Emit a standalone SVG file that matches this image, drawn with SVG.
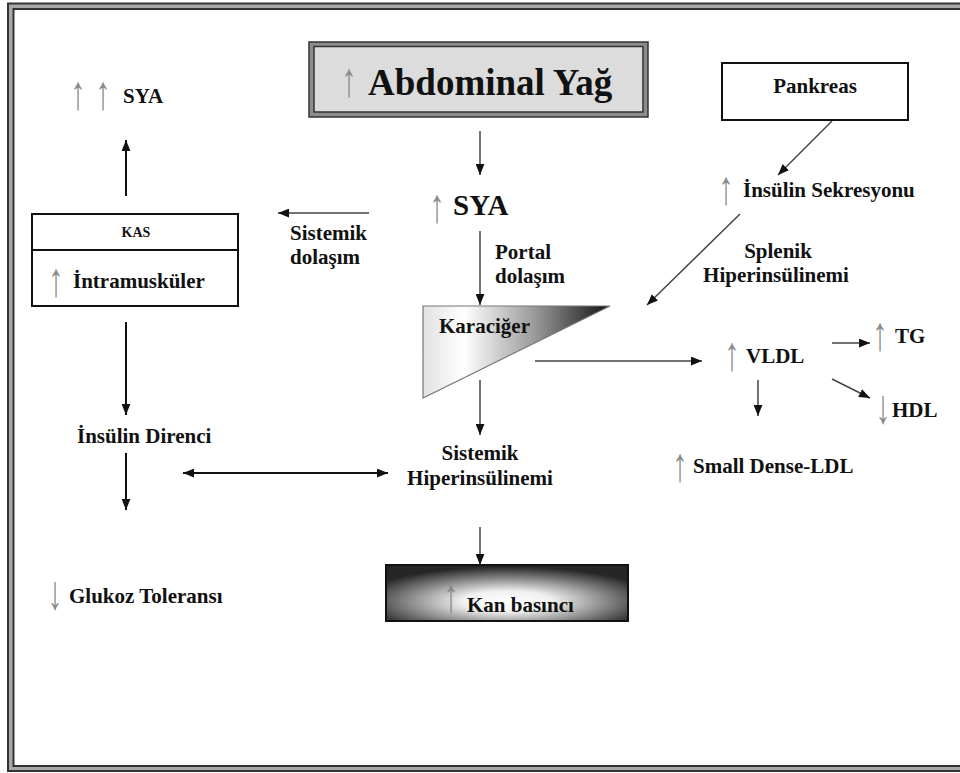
<svg xmlns="http://www.w3.org/2000/svg" width="960" height="773" viewBox="0 0 960 773">
<style>
text{font-family:"Liberation Serif","Times New Roman",serif;font-weight:bold;fill:#111;font-size:21px}
.ar{fill:#8a8a8a;font-weight:normal;font-size:30px;text-anchor:middle}
.c{text-anchor:middle}
.ln{stroke:#444;stroke-width:1.5;fill:none}
.lnb{stroke:#111;stroke-width:2;fill:none}
</style>
<defs>
<marker id="ah" viewBox="0 0 10 8" refX="10" refY="4" markerWidth="11" markerHeight="9" markerUnits="userSpaceOnUse" orient="auto-start-reverse">
<path d="M0,0 L10,4 L0,8 z" fill="#111"/>
</marker>
<linearGradient id="gLiver" x1="0" y1="0" x2="1" y2="0">
<stop offset="0" stop-color="#e2e2e2"/>
<stop offset="0.22" stop-color="#ffffff"/>
<stop offset="0.6" stop-color="#999"/>
<stop offset="1" stop-color="#111"/>
</linearGradient>
<radialGradient id="gKan" cx="0.5" cy="0.65" r="0.62">
<stop offset="0" stop-color="#ffffff"/>
<stop offset="0.3" stop-color="#f0f0f0"/>
<stop offset="1" stop-color="#262626"/>
</radialGradient>
</defs>

<g id="frame">
<rect x="10.5" y="6" width="970" height="762.5" fill="none" stroke="#a8a8a8" stroke-width="6"/>
<rect x="8" y="3.5" width="975" height="767.5" fill="none" stroke="#333" stroke-width="2"/>
<rect x="13.5" y="9" width="965" height="757" fill="none" stroke="#333" stroke-width="2"/>
</g>

<g id="connectors">
<line class="lnb" x1="126" y1="196" x2="126" y2="140" marker-end="url(#ah)"/>
<line class="ln" x1="369" y1="213" x2="278" y2="213" marker-end="url(#ah)"/>
<line class="ln" x1="480" y1="131" x2="480" y2="175" marker-end="url(#ah)"/>
<line class="ln" x1="480" y1="231" x2="480" y2="305" marker-end="url(#ah)"/>
<line class="ln" x1="535" y1="361" x2="702" y2="361" marker-end="url(#ah)"/>
<line class="ln" x1="480" y1="380" x2="480" y2="435" marker-end="url(#ah)"/>
<line class="lnb" x1="183" y1="473" x2="388" y2="473" marker-start="url(#ah)" marker-end="url(#ah)"/>
<line class="ln" x1="480" y1="527" x2="480" y2="565" marker-end="url(#ah)"/>
<line class="lnb" x1="126" y1="322" x2="126" y2="415" marker-end="url(#ah)"/>
<line class="lnb" x1="126" y1="453" x2="126" y2="510" marker-end="url(#ah)"/>
<line class="ln" x1="832" y1="121" x2="778" y2="175" marker-end="url(#ah)"/>
<line class="ln" x1="740" y1="214" x2="647" y2="305" marker-end="url(#ah)"/>
<line class="ln" x1="832" y1="343" x2="870" y2="343" marker-end="url(#ah)"/>
<line class="ln" x1="832" y1="379" x2="870" y2="398" marker-end="url(#ah)"/>
<line class="ln" x1="758" y1="380" x2="758" y2="416" marker-end="url(#ah)"/>
</g>

<g id="abdominal">
<rect x="309" y="42" width="339" height="75" fill="#8c8c8c" stroke="#333" stroke-width="1.5"/>
<rect x="314" y="46.5" width="329" height="65.5" fill="#dcdcdc" stroke="#333" stroke-width="1.5"/>
<text class="ar" transform="translate(349,96) scale(1,1.6)">↑</text>
<text x="368" y="95" style="font-size:37px">Abdominal Yağ</text>
</g>

<g id="sya-top">
<text class="ar" transform="translate(78,109) scale(1,1.6)">↑</text>
<text class="ar" transform="translate(103,109) scale(1,1.6)">↑</text>
<text x="123" y="103">SYA</text>
</g>

<g id="kas">
<rect x="32" y="214" width="206" height="92" fill="#fff" stroke="#111" stroke-width="2"/>
<line x1="32" y1="250" x2="238" y2="250" stroke="#111" stroke-width="2"/>
<text class="c" x="136" y="237" style="font-size:14px">KAS</text>
<text class="ar" transform="translate(56,296) scale(1,1.6)">↑</text>
<text x="73" y="288">İntramusküler</text>
</g>

<g id="sistemik-dolasim">
<text x="290" y="240">Sistemik</text>
<text x="290" y="264">dolaşım</text>
</g>

<g id="sya-mid">
<text class="ar" transform="translate(437,222) scale(1,1.6)">↑</text>
<text x="453" y="215" style="font-size:29px">SYA</text>
</g>

<g id="portal">
<text x="495" y="259">Portal</text>
<text x="495" y="283">dolaşım</text>
</g>

<g id="karaciger">
<polygon points="423,306 610,306 423,398" fill="url(#gLiver)" stroke="#777" stroke-width="1.2"/>
<text x="439" y="333">Karaciğer</text>
</g>

<g id="sistemik-hiper">
<text class="c" x="480" y="460">Sistemik</text>
<text class="c" x="480" y="485">Hiperinsülinemi</text>
</g>

<g id="kan">
<rect x="386" y="565" width="242" height="56" fill="url(#gKan)" stroke="#111" stroke-width="2"/>
<text class="ar" transform="translate(451,612) scale(1,1.6)">↑</text>
<text x="467" y="612">Kan basıncı</text>
</g>

<g id="insulin-direnci">
<text x="77" y="443">İnsülin Direnci</text>
</g>

<g id="glukoz">
<text class="ar" transform="translate(55,609) scale(1,1.6)">↓</text>
<text x="69" y="603">Glukoz Toleransı</text>
</g>

<g id="pankreas">
<rect x="722" y="63" width="186" height="57" fill="#fff" stroke="#111" stroke-width="2"/>
<text class="c" x="815" y="93">Pankreas</text>
</g>

<g id="insulin-sekresyonu">
<text class="ar" transform="translate(726,204) scale(1,1.6)">↑</text>
<text x="743" y="197">İnsülin Sekresyonu</text>
</g>

<g id="splenik">
<text class="c" x="778" y="258">Splenik</text>
<text class="c" x="776" y="282">Hiperinsülinemi</text>
</g>

<g id="vldl">
<text class="ar" transform="translate(732,370) scale(1,1.6)">↑</text>
<text x="746" y="363">VLDL</text>
</g>

<g id="tg">
<text class="ar" transform="translate(880,350) scale(1,1.6)">↑</text>
<text x="895" y="343">TG</text>
</g>

<g id="hdl">
<text class="ar" transform="translate(883,423) scale(1,1.6)">↓</text>
<text x="892" y="417">HDL</text>
</g>

<g id="sdldl">
<text class="ar" transform="translate(680,481) scale(1,1.6)">↑</text>
<text x="693" y="473">Small Dense-LDL</text>
</g>
</svg>
